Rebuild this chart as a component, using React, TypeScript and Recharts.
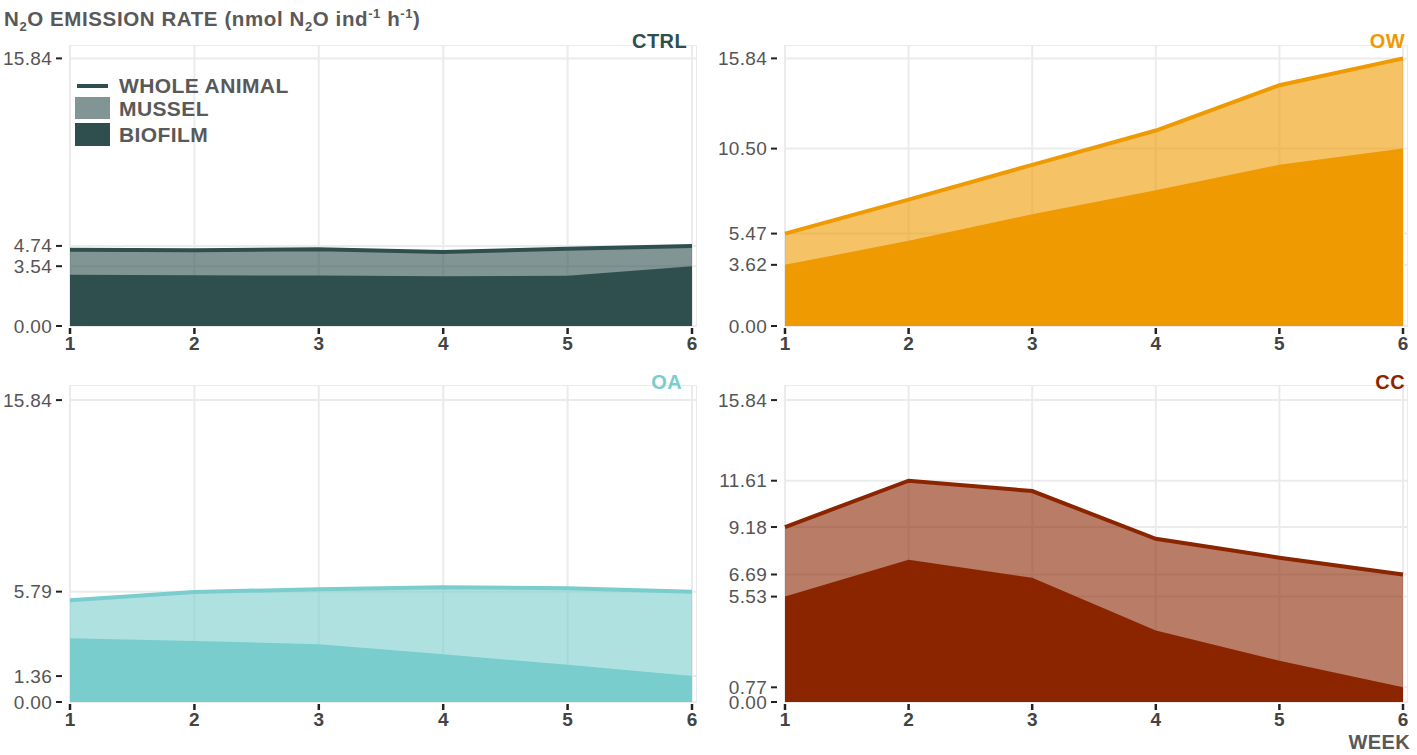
import React from 'react';
import { ComposedChart, Area, Line, XAxis, YAxis, CartesianGrid } from 'recharts';

const WEEKS = [1, 2, 3, 4, 5, 6];
const Y_MAX = 16.632;

// N2O emission per treatment: biofilm part and whole-animal total
const CTRL_BIOFILM = [3.03, 3.0, 2.99, 2.95, 2.97, 3.54];
const CTRL_WHOLE = [4.52, 4.48, 4.55, 4.38, 4.57, 4.74];
const OW_BIOFILM = [3.62, 5.04, 6.62, 8.04, 9.54, 10.5];
const OW_WHOLE = [5.47, 7.48, 9.54, 11.57, 14.25, 15.84];
const OA_BIOFILM = [3.34, 3.2, 3.03, 2.5, 1.96, 1.36];
const OA_WHOLE = [5.34, 5.77, 5.92, 6.02, 5.97, 5.79];
const CC_BIOFILM = [5.53, 7.46, 6.52, 3.75, 2.16, 0.77];
const CC_WHOLE = [9.18, 11.61, 11.07, 8.56, 7.57, 6.69];

const CTRL_TICKS = [0, 3.54, 4.74, 15.84];
const OW_TICKS = [0, 3.62, 5.47, 10.5, 15.84];
const OA_TICKS = [0, 1.36, 5.79, 15.84];
const CC_TICKS = [0, 0.77, 5.53, 6.69, 9.18, 11.61, 15.84];

const FONT = '"Liberation Sans", Arial, sans-serif';

const toRows = (biofilm: number[], whole: number[]) =>
  WEEKS.map((w, i) => ({ week: w, biofilm: biofilm[i], whole: whole[i] }));

function YTick(props: any) {
  const { x, y, payload } = props;
  return (
    <g>
      <line x1={x - 14} x2={x - 8} y1={y} y2={y} stroke="#222" strokeWidth={2} />
      <text x={x - 18} y={y + 6.5} textAnchor="end" fill="#555" fontSize={19} fontFamily={FONT} letterSpacing={0.3}>
        {Number(payload.value).toFixed(2)}
      </text>
    </g>
  );
}

function XTick(props: any) {
  const { x, y, payload } = props;
  return (
    <g>
      <line x1={x} x2={x} y1={y + 2} y2={y + 8} stroke="#222" strokeWidth={2.5} />
      <text x={x} y={y + 24} textAnchor="middle" fill="#444" fontSize={19} fontWeight="bold" fontFamily={FONT}>
        {payload.value}
      </text>
    </g>
  );
}

interface PanelProps {
  left: number;
  top: number;
  width: number;
  height: number;
  biofilm: number[];
  whole: number[];
  ticks: number[];
  color: string;
}

function Panel({ left, top, width, height, biofilm, whole, ticks, color }: PanelProps) {
  return (
    <div style={{ position: 'absolute', left, top }}>
      <ComposedChart
        width={width}
        height={height}
        data={toRows(biofilm, whole)}
        margin={{ top: 0, right: 0, left: 0, bottom: 0 }}
      >
        <CartesianGrid stroke="#ebebeb" strokeWidth={2} />
        <XAxis
          dataKey="week"
          type="number"
          domain={[1, 6]}
          ticks={WEEKS}
          interval={0}
          axisLine={false}
          tickLine={false}
          tickSize={0}
          tickMargin={0}
          height={32}
          padding={{ left: 0, right: 5 }}
          tick={<XTick />}
        />
        <YAxis
          type="number"
          domain={[0, Y_MAX]}
          ticks={ticks}
          interval={0}
          width={70}
          axisLine={false}
          tickLine={false}
          tickSize={0}
          tickMargin={0}
          allowDataOverflow
          tick={<YTick />}
        />
        <Area
          dataKey="whole"
          type="linear"
          fill={color}
          fillOpacity={0.6}
          stroke="none"
          isAnimationActive={false}
        />
        <Area
          dataKey="biofilm"
          type="linear"
          fill={color}
          fillOpacity={1}
          stroke="none"
          isAnimationActive={false}
        />
        <Line
          dataKey="whole"
          type="linear"
          stroke={color}
          strokeWidth={4}
          dot={false}
          isAnimationActive={false}
        />
      </ComposedChart>
    </div>
  );
}

const titleStyle = (right: number, top: number, color: string): React.CSSProperties => ({
  position: 'absolute',
  right: 1417 - right,
  top,
  color,
  fontSize: 20,
  fontWeight: 'bold',
  fontFamily: FONT,
  lineHeight: '20px',
  letterSpacing: 0.4,
});

const legendText: React.CSSProperties = {
  position: 'absolute',
  left: 119,
  color: '#595959',
  fontSize: 21,
  fontWeight: 'bold',
  fontFamily: FONT,
  lineHeight: '20px',
  letterSpacing: 0.4,
};

const small: React.CSSProperties = { fontSize: 13 };

export default function App() {
  return (
    <div
      style={{
        position: 'fixed',
        left: 0,
        top: 0,
        width: 1417,
        height: 755,
        background: '#fff',
        overflow: 'hidden',
        fontFamily: FONT,
      }}
    >
      <div
        style={{
          position: 'absolute',
          left: 4,
          top: 3,
          color: '#595959',
          fontSize: 20.5,
          fontWeight: 'bold',
          lineHeight: '22px',
          letterSpacing: 0.6,
          whiteSpace: 'nowrap',
        }}
      >
        N<sub style={small}>2</sub>O EMISSION RATE (nmol N<sub style={small}>2</sub>O ind
        <sup style={small}>-1</sup> h<sup style={small}>-1</sup>)
      </div>

      <Panel left={0} top={45} width={697} height={313} biofilm={CTRL_BIOFILM} whole={CTRL_WHOLE} ticks={CTRL_TICKS} color="#2F4F4F" />
      <Panel left={715} top={45} width={693} height={313} biofilm={OW_BIOFILM} whole={OW_WHOLE} ticks={OW_TICKS} color="#EE9A00" />
      <Panel left={0} top={385} width={697} height={349} biofilm={OA_BIOFILM} whole={OA_WHOLE} ticks={OA_TICKS} color="#79CDCD" />
      <Panel left={715} top={385} width={693} height={349} biofilm={CC_BIOFILM} whole={CC_WHOLE} ticks={CC_TICKS} color="#8B2500" />

      <div style={titleStyle(687, 31, '#2F4F4F')}>CTRL</div>
      <div style={titleStyle(1405, 31, '#EE9A00')}>OW</div>
      <div style={titleStyle(682, 372, '#79CDCD')}>OA</div>
      <div style={titleStyle(1405, 372, '#8B2500')}>CC</div>

      {/* legend */}
      <div style={{ position: 'absolute', left: 77, top: 84, width: 31, height: 4, background: '#2F4F4F' }} />
      <div style={{ ...legendText, top: 76 }}>WHOLE ANIMAL</div>
      <div style={{ position: 'absolute', left: 75, top: 97, width: 35, height: 22, background: '#2F4F4F', opacity: 0.6 }} />
      <div style={{ ...legendText, top: 99 }}>MUSSEL</div>
      <div style={{ position: 'absolute', left: 75, top: 123, width: 35, height: 23, background: '#2F4F4F' }} />
      <div style={{ ...legendText, top: 125 }}>BIOFILM</div>

      <div
        style={{
          position: 'absolute',
          right: 7,
          top: 732,
          color: '#595959',
          fontSize: 20,
          fontWeight: 'bold',
          lineHeight: '20px',
          letterSpacing: 0.4,
        }}
      >
        WEEK
      </div>
    </div>
  );
}
